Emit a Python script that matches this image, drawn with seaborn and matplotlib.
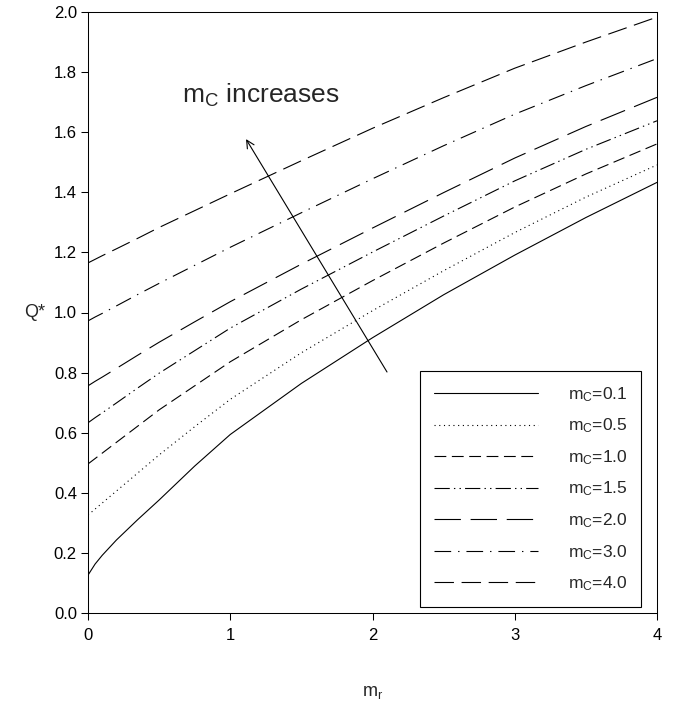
import matplotlib
matplotlib.use("Agg")
import matplotlib.pyplot as plt
import seaborn as sns

# values
mr = [0, 0.05, 0.1, 0.2, 0.35, 0.5, 0.75, 1, 1.5, 2, 2.5, 3, 3.5, 4]
q_mc01 = [0.126, 0.163, 0.192, 0.243, 0.311, 0.376, 0.489, 0.594, 0.764, 0.916, 1.059, 1.191, 1.316, 1.433]
q_mc05 = [0.326, 0.346, 0.366, 0.406, 0.466, 0.526, 0.620, 0.711, 0.866, 1.006, 1.139, 1.266, 1.384, 1.491]
q_mc10 = [0.496, 0.514, 0.532, 0.568, 0.622, 0.676, 0.756, 0.836, 0.976, 1.106, 1.231, 1.351, 1.461, 1.561]
q_mc15 = [0.633, 0.650, 0.666, 0.699, 0.749, 0.798, 0.873, 0.948, 1.078, 1.201, 1.321, 1.438, 1.543, 1.638]
q_mc20 = [0.756, 0.771, 0.785, 0.814, 0.858, 0.901, 0.969, 1.036, 1.161, 1.281, 1.399, 1.514, 1.619, 1.716]
q_mc30 = [0.972, 0.985, 0.997, 1.022, 1.060, 1.097, 1.157, 1.217, 1.332, 1.445, 1.555, 1.660, 1.755, 1.845]
q_mc40 = [1.165, 1.177, 1.189, 1.212, 1.247, 1.283, 1.339, 1.395, 1.505, 1.613, 1.715, 1.813, 1.900, 1.983]
mc_labels = ["0.1", "0.5", "1.0", "1.5", "2.0", "3.0", "4.0"]
x_ticks = [0, 1, 2, 3, 4]
y_ticks = [0.0, 0.2, 0.4, 0.6, 0.8, 1.0, 1.2, 1.4, 1.6, 1.8, 2.0]

series = [q_mc01, q_mc05, q_mc10, q_mc15, q_mc20, q_mc30, q_mc40]
styles = ["-", (0, (0.8, 2.6)), (0, (8.5, 4)), (0, (11, 3, 1, 3, 1, 3)),
          (0, (19, 7)), (0, (12, 5, 1, 5)), (0, (14, 5.5))]

sns.set_style("ticks")
plt.rcParams['font.family'] = ['Liberation Sans', 'DejaVu Sans']
plt.rcParams['mathtext.default'] = 'regular'
plt.rcParams['lines.scale_dashes'] = False

fig = plt.figure(figsize=(6.76, 7.02), dpi=100)
ax = fig.add_axes([88/676, 1-613/702, (657-88)/676, (613-12)/702])

for q, lab, ls in zip(series, mc_labels, styles):
    sns.lineplot(x=mr, y=q, ax=ax, color="black", lw=0.8, linestyle=ls,
                 label="$m_C$=" + lab, legend=False)

ax.set_xlim(0, 4)
ax.set_ylim(0, 2)
ax.set_xticks(x_ticks)
ax.set_xticklabels([str(t) for t in x_ticks])
ax.set_yticks(y_ticks)
ax.set_yticklabels(["%.1f" % t for t in y_ticks])
ax.tick_params(direction="out", length=5, width=0.75, labelsize=12,
               colors="black")
ax.tick_params(axis="y", pad=3)
ax.tick_params(axis="x", pad=6)
for s in ax.spines.values():
    s.set_visible(True)
    s.set_linewidth(0.75)
    s.set_color("black")

ax.set_xlabel("$m_r$", fontsize=13)
ax.xaxis.set_label_coords(0.5, -0.118)
ax.set_ylabel("Q*", fontsize=13, rotation=0, ha="center", va="center")
ax.yaxis.set_label_coords(-0.093, 0.5)

ax.annotate("", xy=(1.111, 1.577), xytext=(2.102, 0.802),
            arrowprops=dict(arrowstyle="->", lw=0.8, color="black",
                            shrinkA=0, shrinkB=0, mutation_scale=14))
ax.text(0.66, 1.697, "$m_C$ increases", fontsize=19, ha="left", va="baseline")

handles = ax.get_lines()[:7]
leg = ax.legend(handles, ["$m_C$=" + l for l in mc_labels], loc="lower right",
                bbox_to_anchor=(0.972, 0.010), borderaxespad=0, frameon=True,
                fancybox=False, edgecolor="black", framealpha=1, fontsize=12.5,
                handlelength=6.0, handletextpad=1.7, labelspacing=0.74,
                borderpad=0.8)
leg.get_frame().set_linewidth(0.8)

fig.savefig("out.png", dpi=100)
